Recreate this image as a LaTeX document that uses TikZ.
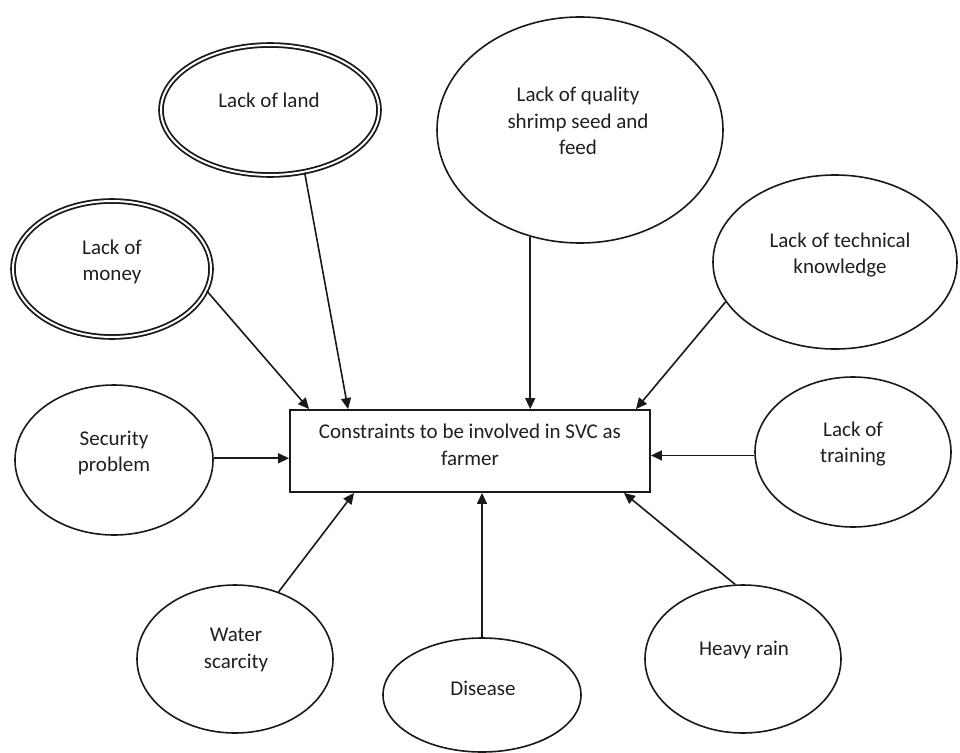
\documentclass[tikz,border=0pt]{standalone}
\usepackage{fontspec}
\setmainfont{Carlito}
\usetikzlibrary{shapes.geometric,arrows.meta}
\begin{document}
\begin{tikzpicture}[x=1pt,y=-1pt,
  oval/.style={ellipse, draw=black!90, line width=1.6pt, inner sep=0pt},
  dbloval/.style={ellipse, draw=black!90, double, double distance=2pt, line width=1.8pt, inner sep=0pt},
  lbl/.style={font=\fontsize{21}{26.5}\selectfont, align=center, text=black!88, inner sep=0pt},
  arr/.style={draw=black!90, line width=1.6pt, -{Triangle[length=11pt,width=10pt]}},
  core/.style={rectangle, draw=black!90, line width=1.9pt, minimum width=360pt, minimum height=82pt, inner sep=0pt}]
\useasboundingbox (0,0) rectangle (960,752);

% central box
\node[core] (box) at (470,451) {};
\node[lbl] (t-box) at (470,445) {Constraints to be involved in SVC as\\farmer};

% causes
\node[dbloval, minimum width=218pt, minimum height=130pt] (land) at (270,110) {};
\node[lbl] (t-land) at (269,100) {Lack of land};

\node[dbloval, minimum width=198pt, minimum height=136pt] (money) at (112,269) {};
\node[lbl] (t-money) at (112,262) {Lack of\\money};

\node[oval, minimum width=286pt, minimum height=226pt] (quality) at (580,130) {};
\node[lbl] (t-quality) at (578,121) {Lack of quality\\shrimp seed and\\feed};

\node[oval, minimum width=244pt, minimum height=174pt] (tech) at (835,262) {};
\node[lbl] (t-tech) at (840,255) {Lack of technical\\knowledge};

\node[oval, minimum width=198pt, minimum height=150pt] (security) at (114,460) {};
\node[lbl] (t-security) at (114,453) {Security\\problem};

\node[oval, minimum width=196pt, minimum height=150pt] (training) at (853,452) {};
\node[lbl] (t-training) at (853,444) {Lack of\\training};

\node[oval, minimum width=196pt, minimum height=148pt] (water) at (235,659) {};
\node[lbl] (t-water) at (236,650) {Water\\scarcity};

\node[oval, minimum width=198pt, minimum height=114pt] (disease) at (482,695) {};
\node[lbl] (t-disease) at (483,688) {Disease};

\node[oval, minimum width=196pt, minimum height=148pt] (rain) at (743,659) {};
\node[lbl] (t-rain) at (744,650) {Heavy rain};

% connectors into the box
\draw[arr] (money.-13.6) -- ([xshift=20pt]box.north west);
\draw[arr] (land.-61) -- ([xshift=59pt]box.north west);
\draw[arr] (quality.-115) -- (quality.-115 |- box.north);
\draw[arr] (tech.200.4) -- ([xshift=-15pt]box.north east);
\draw[arr] (security.1) -- (security.1 -| box.west);
\draw[arr] (training.182) -- (training.182 -| box.east);
\draw[arr] (water.57) -- ([xshift=65pt]box.south west);
\draw[arr] (disease.north) -- (disease.north |- box.south);
\draw[arr] (rain.96) -- ([xshift=-27pt]box.south east);
\end{tikzpicture}
\end{document}
